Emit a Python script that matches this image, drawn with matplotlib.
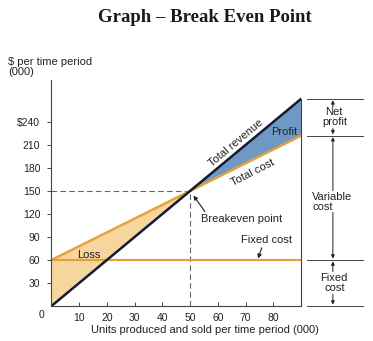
import numpy as np
import matplotlib.pyplot as plt

plt.rcParams['font.family'] = ['Liberation Sans', 'DejaVu Sans']

# break even data (thousands)
units = np.array([0, 10, 20, 30, 40, 50, 60, 70, 80, 90])
revenue = np.array([0, 30, 60, 90, 120, 150, 180, 210, 240, 270])
total_cost = np.array([60, 78, 96, 114, 132, 150, 168, 186, 204, 222])
fixed_cost = np.array([60, 60, 60, 60, 60, 60, 60, 60, 60, 60])
breakeven = (50, 150)

x_ticks = [10, 20, 30, 40, 50, 60, 70, 80]
y_ticks = [30, 60, 90, 120, 150, 180, 210, 240]
y_labels = ["30", "60", "90", "120", "150", "180", "210", "\\$240"]

ORANGE = "#E3A23B"
NAVY = "#141a33"
LOSS_FILL = "#F6D69C"
PROFIT_FILL = "#6F98C4"
GRAY = "#444444"
TXT = "#222222"
FS = 8

fig = plt.figure(figsize=(3.73, 3.41), dpi=100)
ax = fig.add_axes([0.138, 0.1026, 0.669, 0.6636])

# shaded regions
ax.fill_between(units, revenue, total_cost, where=units <= breakeven[0],
                color=LOSS_FILL, lw=0, interpolate=True)
ax.fill_between(units, revenue, total_cost, where=units >= breakeven[0],
                color=PROFIT_FILL, lw=0, interpolate=True)

# guide lines to breakeven point
ax.plot([0, breakeven[0]], [breakeven[1], breakeven[1]], color="#666666",
        lw=0.8, ls=(0, (5, 3)))
ax.plot([breakeven[0], breakeven[0]], [0, breakeven[1]], color="#666666",
        lw=0.8, ls=(0, (5, 3)))

ax.plot(units, fixed_cost, color=ORANGE, lw=1.6)
ax.plot(units, total_cost, color=ORANGE, lw=1.8)
ax.plot(units, revenue, color=NAVY, lw=1.8)

# right edge of chart
ax.plot([units[-1], units[-1]], [0, revenue[-1]], color=GRAY, lw=0.8,
        clip_on=False)

ax.set_xlim(0, 90)
ax.set_ylim(0, 295)
for s in ["top", "right"]:
    ax.spines[s].set_visible(False)
ax.spines["left"].set_color(GRAY)
ax.spines["bottom"].set_color(GRAY)
ax.spines["left"].set_linewidth(0.8)
ax.spines["bottom"].set_linewidth(0.8)
ax.spines["bottom"].set_bounds(0, 90)

ax.set_xticks(x_ticks)
ax.set_yticks(y_ticks)
ax.set_yticklabels(y_labels)
ax.tick_params(axis="x", direction="in", length=3, width=0.7, colors=GRAY,
               labelsize=7.5, labelcolor=TXT, pad=5)
ax.tick_params(axis="y", direction="out", length=3, width=0.7, colors=GRAY,
               labelsize=7.5, labelcolor=TXT, pad=5)
ax.text(-3.5, -12, "0", fontsize=7.5, color=TXT, ha="center", va="center",
        clip_on=False)

ax.text(55.5, -31, "Units produced and sold per time period (000)",
        fontsize=FS, color=TXT, ha="center", va="center", clip_on=False)

# line labels
ax.text(66.5, 212, "Total revenue", rotation=40, fontsize=FS, color=TXT,
        ha="center", va="center", rotation_mode="anchor")
ax.text(72.5, 174, "Total cost", rotation=27, fontsize=FS, color=TXT,
        ha="center", va="center", rotation_mode="anchor")
ax.text(84, 227, "Profit", fontsize=FS, color=TXT, ha="center", va="center")
ax.text(13.5, 66, "Loss", fontsize=FS, color=TXT, ha="center", va="center")

ax.annotate("Breakeven point", xy=(51.2, 144), xytext=(54, 113), fontsize=FS,
            color=TXT, ha="left", va="center",
            arrowprops=dict(arrowstyle="-|>", color=TXT, lw=0.8,
                            mutation_scale=6, shrinkA=0, shrinkB=0,
                            relpos=(0.07, 1.0)))
ax.annotate("Fixed cost", xy=(74.5, 62), xytext=(77.5, 86), fontsize=FS,
            color=TXT, ha="center", va="center",
            arrowprops=dict(arrowstyle="-|>", color=TXT, lw=0.8,
                            mutation_scale=6, shrinkA=0, shrinkB=0,
                            relpos=(0.43, 0.0)))

# bracket on the right
x0, x1, xa = 92.2, 112.4, 101.5
for yv in [revenue[-1], total_cost[-1], fixed_cost[-1], 0]:
    ax.plot([x0, x1], [yv, yv], color=GRAY, lw=0.7, clip_on=False)


def span(y_top, y_bot):
    ax.annotate("", xy=(xa, y_top), xytext=(xa, y_bot),
                arrowprops=dict(arrowstyle="<|-|>", color=TXT, lw=0.7,
                                mutation_scale=5, shrinkA=1, shrinkB=1),
                annotation_clip=False)


span(revenue[-1], total_cost[-1])
span(total_cost[-1], fixed_cost[-1])
span(fixed_cost[-1], 0)

ax.text(xa + 0.5, 246, "Net\nprofit", fontsize=FS, color=TXT, ha="center",
        va="center", linespacing=1.0, clip_on=False,
        bbox=dict(fc="white", ec="none", pad=0.5))
ax.text(94, 136, "Variable\ncost", fontsize=FS, color=TXT, ha="left",
        va="center", linespacing=1.0, clip_on=False,
        bbox=dict(fc="white", ec="none", pad=0.5))
ax.text(xa + 0.5, 30, "Fixed\ncost", fontsize=FS, color=TXT, ha="center",
        va="center", linespacing=1.0, clip_on=False,
        bbox=dict(fc="white", ec="none", pad=0.5))

fig.text(8 / 373, 1 - 67 / 341, "\\$ per time period\n(000)", fontsize=FS,
         color=TXT, ha="left", va="center", linespacing=1.0)
fig.text(0.55, 0.95, "Graph – Break Even Point", fontsize=13.5,
         fontweight="bold", family="Liberation Serif", color="#1a1a1a",
         ha="center", va="center")

fig.savefig("out.png", dpi=100)
